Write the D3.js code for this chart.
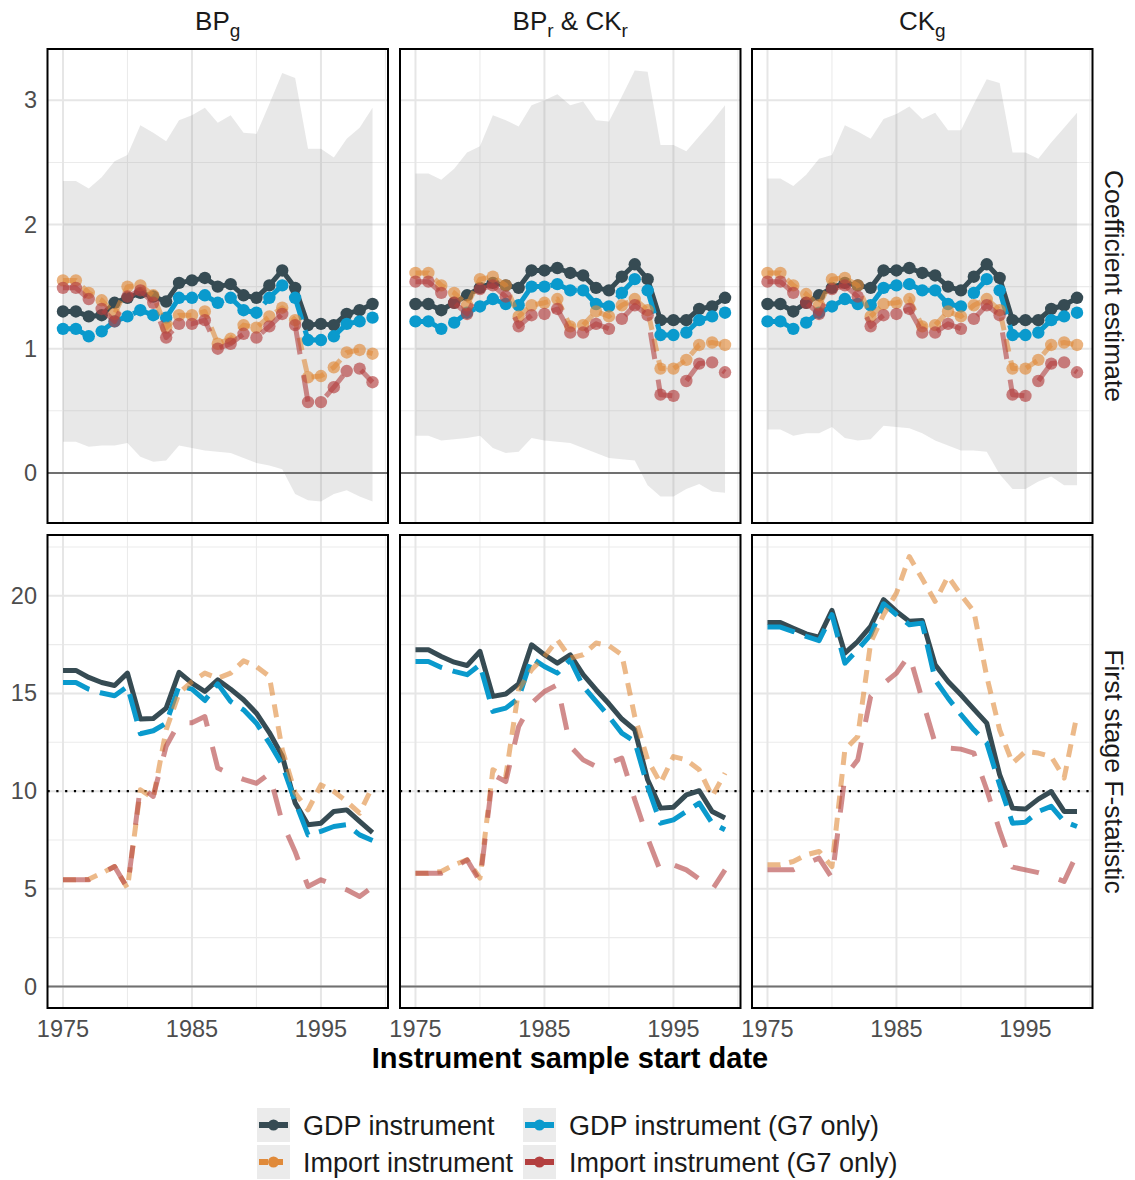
<!DOCTYPE html>
<html>
<head>
<meta charset="utf-8">
<script src="https://cdn.jsdelivr.net/npm/d3@7/dist/d3.min.js"></script>
<style>
  body { margin: 0; background: #fff; }
  text { font-family: "Liberation Sans", Arial, Helvetica, sans-serif; }
</style>
</head>
<body>
<script>
// instrument sample start dates
const years = [1975,1976,1977,1978,1979,1980,1981,1982,1983,1984,1985,1986,1987,
               1988,1989,1990,1991,1992,1993,1994,1995,1996,1997,1998,1999];

const seriesNames = ["GDP instrument", "Import instrument", "GDP instrument (G7 only)", "Import instrument (G7 only)"];
const panelNames = ["BPg", "BPr & CKr", "CKg"];
const rowNames = ["Coefficient estimate", "First stage F-statistic"];
const xTicks = [1975, 1985, 1995];
const yTicksTop = [0, 1, 2, 3];
const yTicksBottom = [0, 5, 10, 15, 20];

// ---- coefficient estimates (top row) ----
const coef_bpg_gdp   = [1.30,1.30,1.26,1.27,1.37,1.41,1.45,1.42,1.38,1.53,1.55,1.57,1.50,1.52,1.43,1.41,1.51,1.63,1.49,1.19,1.20,1.19,1.28,1.31,1.36];
const coef_bpg_gdpG7 = [1.16,1.16,1.10,1.14,1.22,1.26,1.31,1.27,1.25,1.41,1.41,1.43,1.37,1.41,1.31,1.29,1.41,1.51,1.41,1.07,1.07,1.10,1.20,1.22,1.25];
const coef_bpg_imp   = [1.55,1.55,1.45,1.39,1.28,1.50,1.51,1.43,1.17,1.27,1.27,1.30,1.04,1.08,1.19,1.17,1.26,1.33,1.23,0.77,0.78,0.85,0.97,0.99,0.96];
const coef_bpg_impG7 = [1.49,1.49,1.40,1.32,1.22,1.42,1.47,1.37,1.09,1.20,1.20,1.23,1.00,1.04,1.12,1.09,1.18,1.28,1.19,0.57,0.57,0.69,0.82,0.84,0.73];
const band_bpg_hi    = [2.35,2.35,2.29,2.38,2.51,2.56,2.80,2.74,2.67,2.84,2.88,2.94,2.82,2.88,2.74,2.73,2.97,3.22,3.18,2.61,2.61,2.54,2.69,2.78,2.94];
const band_bpg_lo    = [0.25,0.25,0.21,0.22,0.22,0.24,0.13,0.09,0.10,0.22,0.20,0.18,0.17,0.16,0.12,0.08,0.06,0.03,-0.17,-0.22,-0.23,-0.17,-0.14,-0.19,-0.23];

const coef_mid_gdp   = [1.36,1.36,1.31,1.37,1.43,1.49,1.53,1.51,1.49,1.63,1.63,1.65,1.61,1.59,1.49,1.47,1.58,1.68,1.56,1.23,1.23,1.23,1.32,1.34,1.41];
const coef_mid_gdpG7 = [1.22,1.22,1.16,1.21,1.29,1.34,1.40,1.36,1.35,1.50,1.50,1.52,1.47,1.47,1.36,1.34,1.45,1.56,1.47,1.11,1.11,1.13,1.23,1.26,1.29];
const coef_mid_imp   = [1.61,1.61,1.51,1.45,1.35,1.56,1.58,1.51,1.26,1.35,1.37,1.40,1.18,1.19,1.30,1.26,1.35,1.40,1.31,0.84,0.84,0.91,1.03,1.05,1.03];
const coef_mid_impG7 = [1.54,1.54,1.45,1.37,1.28,1.48,1.51,1.42,1.18,1.27,1.28,1.32,1.13,1.13,1.20,1.16,1.24,1.35,1.27,0.63,0.62,0.74,0.88,0.89,0.81];
const band_mid_hi    = [2.41,2.41,2.36,2.45,2.58,2.63,2.88,2.84,2.79,2.96,3.00,3.05,2.96,2.99,2.84,2.83,3.03,3.24,3.23,2.64,2.64,2.59,2.71,2.83,2.96];
const band_mid_lo    = [0.30,0.30,0.26,0.27,0.28,0.30,0.20,0.16,0.17,0.28,0.26,0.25,0.24,0.20,0.16,0.12,0.11,0.10,-0.10,-0.19,-0.19,-0.13,-0.09,-0.15,-0.16];

const coef_ckg_gdp   = [1.36,1.36,1.30,1.37,1.43,1.49,1.53,1.51,1.49,1.63,1.63,1.65,1.61,1.59,1.50,1.47,1.58,1.68,1.57,1.23,1.23,1.23,1.32,1.35,1.41];
const coef_ckg_gdpG7 = [1.22,1.22,1.16,1.21,1.29,1.34,1.40,1.36,1.35,1.49,1.51,1.52,1.47,1.47,1.36,1.34,1.45,1.56,1.47,1.11,1.11,1.13,1.23,1.26,1.29];
const coef_ckg_imp   = [1.61,1.61,1.51,1.44,1.35,1.56,1.57,1.51,1.26,1.36,1.37,1.40,1.18,1.19,1.30,1.26,1.35,1.40,1.31,0.84,0.84,0.91,1.03,1.05,1.03];
const coef_ckg_impG7 = [1.54,1.54,1.45,1.37,1.28,1.48,1.51,1.42,1.18,1.27,1.28,1.32,1.13,1.13,1.20,1.16,1.24,1.35,1.27,0.63,0.62,0.74,0.88,0.89,0.81];
const band_ckg_hi    = [2.37,2.37,2.31,2.40,2.53,2.56,2.80,2.75,2.69,2.85,2.89,2.95,2.85,2.90,2.76,2.76,2.97,3.17,3.14,2.58,2.58,2.53,2.66,2.78,2.90];
const band_ckg_lo    = [0.35,0.35,0.30,0.32,0.32,0.37,0.28,0.26,0.27,0.38,0.37,0.36,0.32,0.26,0.22,0.18,0.18,0.17,-0.01,-0.13,-0.13,-0.07,-0.03,-0.10,-0.10];

// ---- first stage F-statistics (bottom row) ----
const fstat_bpg_gdp   = [16.18,16.18,15.82,15.56,15.41,16.04,13.69,13.72,14.25,16.08,15.53,15.10,15.70,15.22,14.68,13.99,13.00,11.80,9.40,8.28,8.36,8.96,9.04,8.45,7.88];
const fstat_bpg_gdpG7 = [15.56,15.56,15.22,15.02,14.88,15.36,12.94,13.09,13.48,15.39,15.22,14.64,15.49,14.59,14.16,13.48,12.46,11.35,9.47,7.76,7.94,8.19,8.28,7.76,7.47];
const fstat_bpg_imp   = [5.46,5.46,5.49,5.80,6.14,5.03,10.07,9.64,13.14,15.02,15.61,16.04,15.78,16.04,16.67,16.38,15.87,12.12,9.90,9.04,10.32,9.98,9.47,8.87,10.24];
const fstat_bpg_impG7 = [5.46,5.46,5.46,5.80,6.14,5.03,10.24,9.73,12.30,13.50,13.50,13.82,11.18,10.87,10.60,10.40,10.90,8.40,6.90,5.12,5.46,5.20,4.95,4.61,5.10];

const fstat_mid_gdp   = [17.24,17.24,16.89,16.60,16.43,17.15,14.85,14.97,15.49,17.49,16.98,16.55,16.98,15.96,15.19,14.47,13.69,13.14,10.58,9.13,9.18,9.81,10.02,8.96,8.62];
const fstat_mid_gdpG7 = [16.64,16.64,16.33,16.13,15.96,16.47,14.08,14.25,14.76,16.81,16.38,16.04,16.72,15.36,14.59,13.82,12.97,12.54,10.24,8.36,8.53,8.96,9.39,8.36,8.02];
const fstat_mid_imp   = [5.80,5.80,5.89,6.23,6.48,5.55,11.09,10.75,15.20,16.21,16.89,17.75,16.81,16.98,17.58,17.44,16.98,13.82,11.60,10.41,11.77,11.60,11.09,9.73,10.92];
const fstat_mid_impG7 = [5.80,5.80,5.80,6.10,6.48,5.38,10.84,10.49,13.30,14.50,15.10,15.44,12.29,11.60,11.26,11.43,11.69,9.56,7.60,5.89,6.23,5.97,5.50,4.95,5.97];

const fstat_ckg_gdp   = [18.63,18.63,18.34,18.05,17.88,19.25,17.06,17.66,18.43,19.80,19.20,18.69,18.74,16.47,15.61,14.93,14.20,13.48,10.84,9.13,9.08,9.59,9.98,8.96,8.96];
const fstat_ckg_gdpG7 = [18.40,18.40,18.17,17.92,17.70,19.03,16.55,17.24,18.00,19.59,19.03,18.52,18.60,15.70,14.76,13.91,13.14,12.46,10.32,8.36,8.41,8.96,9.22,8.45,8.19];
const fstat_ckg_imp   = [6.23,6.23,6.40,6.74,6.91,6.14,12.12,12.80,17.60,19.03,20.14,22.01,20.87,19.71,20.99,20.05,19.20,15.87,13.14,11.43,12.03,11.95,11.77,10.67,13.91];
const fstat_ckg_impG7 = [5.97,5.97,5.97,6.30,6.57,5.55,10.75,11.60,14.85,15.50,16.04,16.98,14.68,12.46,12.20,12.15,11.95,10.07,7.98,6.11,5.97,5.83,5.63,5.38,6.80];

// panel table built from the arrays above
const coefData = [
  [coef_bpg_gdp, coef_bpg_imp, coef_bpg_gdpG7, coef_bpg_impG7],
  [coef_mid_gdp, coef_mid_imp, coef_mid_gdpG7, coef_mid_impG7],
  [coef_ckg_gdp, coef_ckg_imp, coef_ckg_gdpG7, coef_ckg_impG7]
];
const bandData = [[band_bpg_lo, band_bpg_hi], [band_mid_lo, band_mid_hi], [band_ckg_lo, band_ckg_hi]];
const fstatData = [
  [fstat_bpg_gdp, fstat_bpg_imp, fstat_bpg_gdpG7, fstat_bpg_impG7],
  [fstat_mid_gdp, fstat_mid_imp, fstat_mid_gdpG7, fstat_mid_impG7],
  [fstat_ckg_gdp, fstat_ckg_imp, fstat_ckg_gdpG7, fstat_ckg_impG7]
];

// styles (index matches seriesNames)
const colors  = ["#364B53", "#E08A3A", "#0A9ACD", "#B33F3F"];
const alphas  = [1, 0.6, 1, 0.6];
const dashes  = [null, "13,9", "28,11", "27,21"];
const widths  = [5, 5, 5, 5];
const drawOrder = [0, 2, 1, 3];

const W = 1135, H = 1180;
const svg = d3.select("body").append("svg").attr("width", W).attr("height", H);

const colX = [47.5, 400, 752], panelW = 340.5;
const rows = [[49, 523], [535, 1008]];

function expand(ext) { const r = ext[1] - ext[0]; return [ext[0] - 0.05 * r, ext[1] + 0.05 * r]; }

const xDom = expand(d3.extent(years));
const topVals = [0].concat(bandData.flat(2), coefData.flat(2));
const botVals = [0].concat(fstatData.flat(2));
const yDomTop = expand(d3.extent(topVals));
const yDomBot = expand(d3.extent(botVals));

const yTop = d3.scaleLinear().domain(yDomTop).range([rows[0][1], rows[0][0]]);
const yBot = d3.scaleLinear().domain(yDomBot).range([rows[1][1], rows[1][0]]);

function gridAndFrame(g, x, y, yMajor, yMinor, r) {
  const x0 = x.range()[0], x1 = x.range()[1];
  // minor grid
  g.selectAll(null).data(yMinor).enter().append("line")
    .attr("x1", x0).attr("x2", x1).attr("y1", d => y(d)).attr("y2", d => y(d))
    .attr("stroke", "#EBEBEB").attr("stroke-width", 1.1);
  g.selectAll(null).data([1980, 1990, 2000]).enter().append("line")
    .attr("x1", d => x(d)).attr("x2", d => x(d)).attr("y1", r[0]).attr("y2", r[1])
    .attr("stroke", "#EBEBEB").attr("stroke-width", 1.1);
  // major grid
  g.selectAll(null).data(yMajor).enter().append("line")
    .attr("x1", x0).attr("x2", x1).attr("y1", d => y(d)).attr("y2", d => y(d))
    .attr("stroke", "#E6E6E6").attr("stroke-width", 2);
  g.selectAll(null).data(xTicks).enter().append("line")
    .attr("x1", d => x(d)).attr("x2", d => x(d)).attr("y1", r[0]).attr("y2", r[1])
    .attr("stroke", "#E6E6E6").attr("stroke-width", 2);
}

function seriesLine(g, x, y, vals, i, withPoints) {
  const line = d3.line().x((d, k) => x(years[k])).y(d => y(d));
  g.append("path").datum(vals)
    .attr("d", line)
    .attr("fill", "none")
    .attr("stroke", colors[i])
    .attr("stroke-opacity", alphas[i])
    .attr("stroke-width", widths[i])
    .attr("stroke-linejoin", "round")
    .attr("stroke-dasharray", dashes[i]);
  if (withPoints) {
    g.selectAll(null).data(vals).enter().append("circle")
      .attr("cx", (d, k) => x(years[k]))
      .attr("cy", d => y(d))
      .attr("r", 6.2)
      .attr("fill", colors[i])
      .attr("fill-opacity", alphas[i] === 1 ? 1 : 0.65);
  }
}

colX.forEach((cx, p) => {
  const x = d3.scaleLinear().domain(xDom).range([cx, cx + panelW]);

  // ---- top row ----
  const gt = svg.append("g");
  gridAndFrame(gt, x, yTop, yTicksTop, [0.5, 1.5, 2.5], rows[0]);
  const area = d3.area()
    .x((d, k) => x(years[k]))
    .y0((d, k) => yTop(bandData[p][0][k]))
    .y1((d, k) => yTop(bandData[p][1][k]));
  gt.append("path").datum(years).attr("d", area)
    .attr("fill", "#8C8C8C").attr("fill-opacity", 0.2);
  gt.append("line").attr("x1", cx).attr("x2", cx + panelW)
    .attr("y1", yTop(0)).attr("y2", yTop(0))
    .attr("stroke", "#707070").attr("stroke-width", 2);
  drawOrder.forEach(i => seriesLine(gt, x, yTop, coefData[p][i], i, true));
  gt.append("rect").attr("x", cx).attr("y", rows[0][0])
    .attr("width", panelW).attr("height", rows[0][1] - rows[0][0])
    .attr("fill", "none").attr("stroke", "#000").attr("stroke-width", 2);

  // ---- bottom row ----
  const gb = svg.append("g");
  gridAndFrame(gb, x, yBot, yTicksBottom, [2.5, 7.5, 12.5, 17.5, 22.5], rows[1]);
  gb.append("line").attr("x1", cx).attr("x2", cx + panelW)
    .attr("y1", yBot(0)).attr("y2", yBot(0))
    .attr("stroke", "#707070").attr("stroke-width", 2);
  gb.append("line").attr("x1", cx).attr("x2", cx + panelW)
    .attr("y1", yBot(10)).attr("y2", yBot(10))
    .attr("stroke", "#000").attr("stroke-width", 2.2)
    .attr("stroke-dasharray", "2.2,6.6");
  drawOrder.forEach(i => seriesLine(gb, x, yBot, fstatData[p][i], i, false));
  gb.append("rect").attr("x", cx).attr("y", rows[1][0])
    .attr("width", panelW).attr("height", rows[1][1] - rows[1][0])
    .attr("fill", "none").attr("stroke", "#000").attr("stroke-width", 2);

  // x tick labels
  svg.selectAll(null).data(xTicks).enter().append("text")
    .attr("x", d => x(d)).attr("y", 1037)
    .attr("text-anchor", "middle")
    .attr("font-size", 23.5).attr("fill", "#4D4D4D")
    .text(d => d);
});

// y tick labels
svg.selectAll(null).data(yTicksTop).enter().append("text")
  .attr("x", 37).attr("y", d => yTop(d) + 8)
  .attr("text-anchor", "end").attr("font-size", 23.5).attr("fill", "#4D4D4D")
  .text(d => d);
svg.selectAll(null).data(yTicksBottom).enter().append("text")
  .attr("x", 37).attr("y", d => yBot(d) + 8)
  .attr("text-anchor", "end").attr("font-size", 23.5).attr("fill", "#4D4D4D")
  .text(d => d);

// strip titles (top) with subscripts
const stripParts = [
  [["BP", false], ["g", true]],
  [["BP", false], ["r", true], [" & CK", false], ["r", true]],
  [["CK", false], ["g", true]]
];
stripParts.forEach((parts, p) => {
  const t = svg.append("text")
    .attr("x", colX[p] + panelW / 2).attr("y", 30)
    .attr("text-anchor", "middle").attr("font-size", 26).attr("fill", "#1A1A1A");
  let low = false;
  parts.forEach(([s, sub]) => {
    const ts = t.append("tspan").text(s);
    if (sub && !low) { ts.attr("dy", 7).attr("font-size", 19); low = true; }
    else if (!sub && low) { ts.attr("dy", -7); low = false; }
  });
});

// right strips
rowNames.forEach((name, r) => {
  const cy = (rows[r][0] + rows[r][1]) / 2;
  svg.append("text")
    .attr("transform", `translate(1105,${cy}) rotate(90)`)
    .attr("text-anchor", "middle").attr("font-size", 26.5).attr("fill", "#1A1A1A")
    .text(name);
});

// x axis title
svg.append("text")
  .attr("x", (colX[0] + colX[2] + panelW) / 2).attr("y", 1068)
  .attr("text-anchor", "middle").attr("font-size", 29).attr("font-weight", "bold")
  .attr("fill", "#000")
  .text("Instrument sample start date");

// legend (2 columns)
const legPos = [[257, 1108], [257, 1145], [523, 1108], [523, 1145]];
seriesNames.forEach((name, i) => {
  const [lx, ly] = legPos[i];
  const g = svg.append("g");
  g.append("rect").attr("x", lx).attr("y", ly).attr("width", 33).attr("height", 34)
    .attr("fill", "#EBEBEB");
  g.append("line").attr("x1", lx + 2).attr("x2", lx + 31)
    .attr("y1", ly + 17).attr("y2", ly + 17)
    .attr("stroke", colors[i]).attr("stroke-width", widths[i] + 1)
    .attr("stroke-dasharray", i === 1 ? "9,6" : null);
  g.append("circle").attr("cx", lx + 16.5).attr("cy", ly + 17).attr("r", 5.5)
    .attr("fill", colors[i]);
  g.append("text").attr("x", lx + 46).attr("y", ly + 27)
    .attr("font-size", 27).attr("fill", "#1A1A1A").text(name);
});
</script>
</body>
</html>
